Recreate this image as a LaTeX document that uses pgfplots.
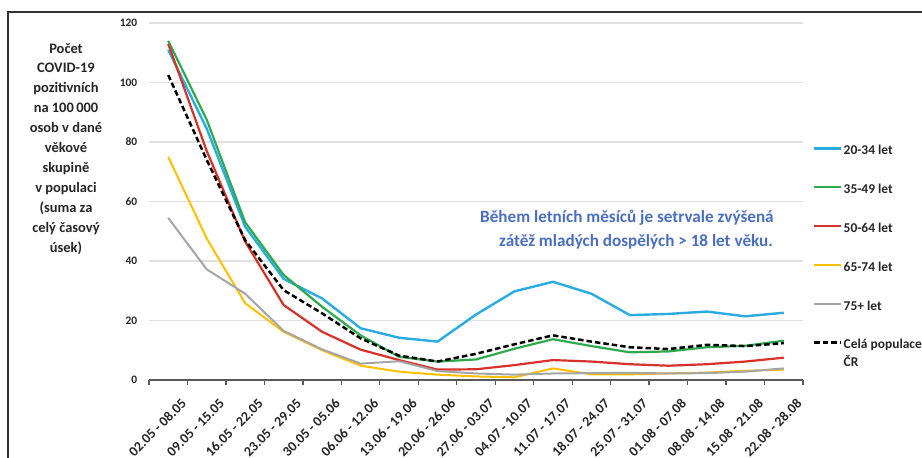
\documentclass[border=0pt]{standalone}
\usepackage{pgfplots}
\pgfplotsset{compat=1.18}
\usepackage{fontspec}
\setmainfont{Carlito}
\definecolor{cblue}{HTML}{2AABE2}
\definecolor{cgreen}{HTML}{2EAA4E}
\definecolor{cred}{HTML}{D7322A}
\definecolor{cyellow}{HTML}{FFC000}
\definecolor{cgray}{HTML}{A5A5A5}
\definecolor{cnote}{HTML}{4A6EC2}
\definecolor{ctext}{HTML}{262626}
\begin{document}
\begin{tikzpicture}[x=1bp,y=1bp]
\useasboundingbox (0,0) rectangle (922,458);
\draw[line width=1.5bp,black!80] (8,-5) -- (8,446) -- (930,446);
\node[align=center,font=\bfseries\fontsize{14.5}{20}\selectfont,color=ctext,anchor=north,inner sep=0pt] at (66,415)
 {Počet\\COVID-19\\pozitivních\\na 100\,000\\osob v dané\\věkové\\skupině\\v populaci\\(suma za\\celý časový\\úsek)};
\begin{axis}[
  at={(149bp,78bp)}, anchor=south west,
  width=654bp, height=357bp, scale only axis,
  xmin=-0.5, xmax=16.5, ymin=0, ymax=120,
  axis x line*=bottom, axis y line*=left,
  y axis line style={draw=none},
  x axis line style={line width=1.3bp,color=black!65},
  ytick={0,20,...,120},
  ytick style={draw=none},
  /pgf/number format/assume math mode=true,
  yticklabel style={font=\bfseries\fontsize{11.5}{12}\selectfont,color=ctext,xshift=-4bp},
  ymajorgrids, grid style={line width=1.3bp,color=black!12},
  xtick={0,...,16},
  major x tick style={draw=none},
  minor xtick={-0.5,0.5,...,16.5},
  minor x tick style={line width=1.3bp,color=black!65},
  minor tick length=5bp,
  tick align=outside,
  xticklabels={02.05 - 08.05,09.05 - 15.05,16.05 - 22.05,23.05 - 29.05,30.05 - 05.06,06.06 - 12.06,13.06 - 19.06,20.06 - 26.06,27.06 - 03.07,04.07 - 10.07,11.07 - 17.07,18.07 - 24.07,25.07 - 31.07,01.08 - 07.08,08.08 - 14.08,15.08 - 21.08,22.08 - 28.08},
  xticklabel style={rotate=45,anchor=north east,font=\bfseries\fontsize{14}{15}\selectfont,color=ctext,inner sep=0bp,xshift=-1bp,yshift=-18bp},
  legend style={at={(1.0153,0.659)},anchor=north west,draw=none,fill=none,inner sep=0pt,
    font=\bfseries\fontsize{13.5}{14}\selectfont,text=ctext,row sep=24.8bp,
    nodes={inner sep=1bp,text height=9bp,text depth=3bp}},
  legend cell align=left,
  legend image code/.code={\draw[#1] (0bp,3.5bp) -- (27bp,3.5bp);},
  clip=false,
]
\addplot[cblue,line width=2.4bp] coordinates {(0,111)(1,84.5)(2,51.5)(3,34)(4,27.4)(5,17.4)(6,14.2)(7,12.9)(8,22)(9,29.8)(10,33)(11,29)(12,21.8)(13,22.2)(14,23)(15,21.4)(16,22.6)};
\addlegendentry{20-34 let}
\addplot[cgreen,line width=2.2bp] coordinates {(0,114)(1,87.5)(2,53)(3,35.3)(4,24.6)(5,15)(6,7.8)(7,6.2)(8,6.9)(9,10.5)(10,13.7)(11,11.4)(12,9.3)(13,9.6)(14,11)(15,11.5)(16,13.2)};
\addlegendentry{35-49 let}
\addplot[cred,line width=2.2bp] coordinates {(0,113)(1,77)(2,46.5)(3,25.2)(4,16.2)(5,10.2)(6,6.7)(7,3.5)(8,3.6)(9,5)(10,6.7)(11,6.2)(12,5.3)(13,4.8)(14,5.3)(15,6.2)(16,7.5)};
\addlegendentry{50-64 let}
\addplot[cyellow,line width=2bp] coordinates {(0,75)(1,47.6)(2,25.8)(3,16.2)(4,10)(5,4.8)(6,2.8)(7,1.8)(8,1.2)(9,0.9)(10,3.9)(11,1.9)(12,1.9)(13,2.2)(14,2.5)(15,3.1)(16,3.5)};
\addlegendentry{65-74 let}
\addplot[cgray,line width=2bp] coordinates {(0,54.5)(1,37.2)(2,29)(3,16.5)(4,10.3)(5,5.5)(6,6.3)(7,3)(8,2.2)(9,1.8)(10,2.2)(11,2.3)(12,2.4)(13,2.2)(14,2.3)(15,2.8)(16,3.9)};
\addlegendentry{75+ let}
\addplot[black,line width=2.5bp,dash pattern=on 5.5bp off 3bp] coordinates {(0,102.5)(1,74)(2,47)(3,30.2)(4,22.4)(5,14)(6,8.2)(7,6.2)(8,8.8)(9,12)(10,15)(11,12.9)(12,11)(13,10.4)(14,11.8)(15,11.4)(16,12.4)};
\addlegendentry{\rlap{\smash{\raisebox{-17.5bp}{ČR}}}Celá populace}
\end{axis}
\node[anchor=base west,font=\bfseries\fontsize{17.2}{18}\selectfont,color=cnote,inner sep=0pt] at (480,235) {Během letních měsíců je setrvale zvýšená};
\node[anchor=base west,font=\bfseries\fontsize{17.2}{18}\selectfont,color=cnote,inner sep=0pt] at (499,211) {zátěž mladých dospělých > 18 let věku.};
\end{tikzpicture}
\end{document}
